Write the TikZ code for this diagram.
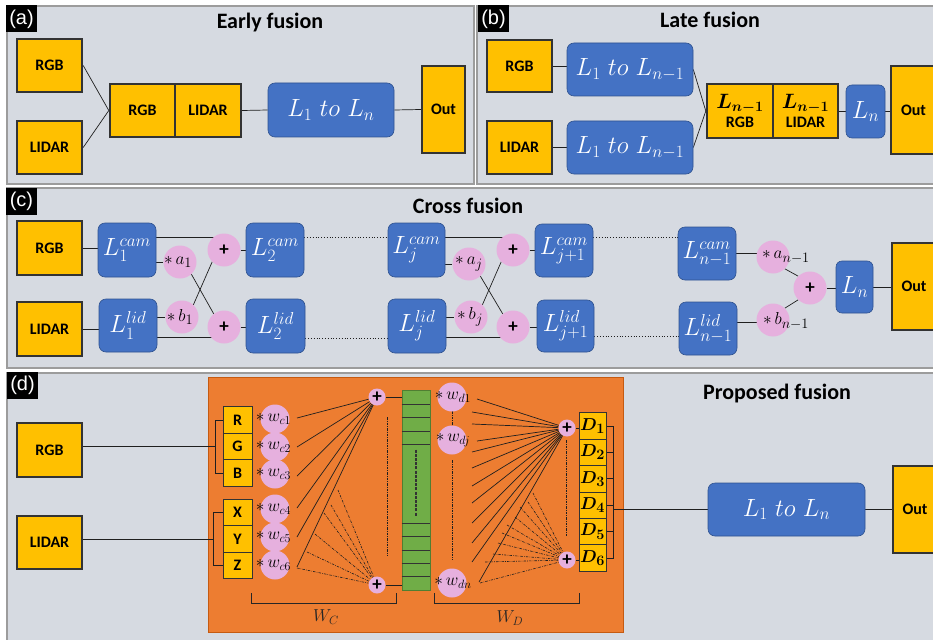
\documentclass[tikz,border=0pt]{standalone}
\usepackage{fontspec}
\newfontfamily\carl{Carlito}
\newfontfamily\arl{Liberation Sans}
\usetikzlibrary{calc}

\definecolor{panelfill}{HTML}{D6DAE1}
\definecolor{paneledge}{HTML}{9C9C9C}
\definecolor{ygold}{HTML}{FFC000}
\definecolor{yedge}{HTML}{333333}
\definecolor{bluef}{HTML}{4472C4}
\definecolor{bluee}{HTML}{2F528F}
\definecolor{pinkf}{RGB}{230,176,222}
\definecolor{orangef}{HTML}{ED7D31}
\definecolor{orangee}{HTML}{C55A11}
\definecolor{greenf}{HTML}{70AD47}
\definecolor{greene}{HTML}{507E32}
\definecolor{wirec}{HTML}{1F1F1F}

\pgfdeclarelayer{bg}
\pgfdeclarelayer{wires}
\pgfsetlayers{bg,wires,main}

\tikzset{
  panel/.style={fill=panelfill, draw=paneledge, line width=1.6pt},
  tag/.style={fill=black, text=white, font=\arl\fontsize{20}{20}\selectfont,
    inner sep=0pt, minimum width=31pt, minimum height=27pt},
  title/.style={font=\carl\bfseries\fontsize{22}{24}\selectfont, anchor=base,
    inner sep=0pt, text=black},
  inbox/.style={draw=yedge, line width=2.4pt, fill=ygold, inner sep=0pt,
    font=\carl\bfseries\fontsize{16}{18}\selectfont},
  cellbox/.style={draw=yedge, line width=0.9pt, fill=ygold, inner sep=0pt,
    minimum width=29pt, minimum height=26.5pt,
    font=\carl\bfseries\fontsize{16}{18}\selectfont},
  dbox/.style={draw=yedge, line width=0.9pt, fill=ygold, inner sep=0pt,
    minimum width=27pt, minimum height=26.4pt,
    font=\fontsize{19}{19}\selectfont\boldmath},
  blk/.style={fill=bluef, draw=bluee, line width=0.6pt, rounded corners=7pt,
    inner sep=0pt, text=white, font=\fontsize{24}{26}\selectfont},
  pinkc/.style={circle, fill=pinkf, inner sep=0pt, minimum size=33pt},
  pinks/.style={circle, fill=pinkf, inner sep=0pt, minimum size=29pt},
  plusc/.style={circle, fill=pinkf, inner sep=0pt, minimum size=33pt,
    font=\carl\bfseries\fontsize{19}{19}\selectfont},
  plusd/.style={circle, fill=pinkf, inner sep=0pt, minimum size=17pt,
    font=\carl\bfseries\fontsize{19}{19}\selectfont},
  clab/.style={font=\fontsize{19}{20}\selectfont, inner sep=0pt, text=black},
  wlab/.style={font=\fontsize{17}{18}\selectfont, inner sep=0pt, text=black},
  wire/.style={draw=wirec, line width=0.7pt},
  dotw/.style={draw=wirec, line width=0.8pt, dotted},
  dashdot/.style={draw=wirec, line width=0.6pt,
    dash pattern=on 2.5pt off 1.2pt on 0.6pt off 1.2pt},
  orangebox/.style={fill=orangef, draw=orangee, line width=0.8pt, inner sep=0pt},
  greenbox/.style={fill=greenf, draw=greene, line width=0.8pt, inner sep=0pt},
  cellline/.style={draw=black!80, line width=0.7pt},
  brk/.style={draw=black!85, line width=0.8pt},
}

\begin{document}
\begin{tikzpicture}[x=1pt,y=-1pt]
\useasboundingbox (0,0) rectangle (933,639);

\begin{pgfonlayer}{bg}
  \fill[white] (0,0) rectangle (933,639);
  \draw[panel] (7,6) rectangle (474,184);
  \draw[panel] (477,6) rectangle (945,184);
  \draw[panel] (7,188) rectangle (945,368);
  \draw[panel] (7,373) rectangle (945,650);
  \node[orangebox, minimum width=415pt, minimum height=255pt] (orng) at (415.5,504.5) {};
\end{pgfonlayer}

% ---------------- (a) early fusion ----------------
\node[tag] (taga) at (21.5,19) {(a)};
\node[title] (ta) at (270,29) {Early fusion};
\node[inbox, minimum width=65pt, minimum height=53pt] (aRGB) at (49.5,65.5) {RGB};
\node[inbox, minimum width=65pt, minimum height=53pt] (aLID) at (49.5,147.5) {LIDAR};
\node[inbox, minimum width=65pt, minimum height=53pt] (aCR) at (142.5,110.5) {RGB};
\node[inbox, minimum width=66pt, minimum height=53pt] (aCL) at (208,110.5) {LIDAR};
\node[blk, minimum width=126pt, minimum height=54pt] (aL) at (331,110) {$L_1\ to\ L_n$};
\node[inbox, minimum width=43pt, minimum height=87pt] (aOut) at (443.5,109.5) {Out};

\begin{pgfonlayer}{wires}
  \draw[wire] (aRGB.east) -- (aCR.west);
  \draw[wire] (aLID.east) -- (aCR.west);
  \draw[wire] (aCL.east) -- (aL.west);
  \draw[wire] (aL.east) -- (aOut.west);
\end{pgfonlayer}

% ---------------- (b) late fusion ----------------
\node[tag] (tagb) at (493.5,19) {(b)};
\node[title] (tb) at (710,27.5) {Late fusion};
\node[inbox, minimum width=65pt, minimum height=52pt] (bRGB) at (519.5,66) {RGB};
\node[inbox, minimum width=65pt, minimum height=53pt] (bLID) at (519.5,147.5) {LIDAR};
\node[blk, minimum width=126pt, minimum height=53pt] (bL1) at (630,69.5) {$L_1\ to\ L_{n-1}$};
\node[blk, minimum width=126pt, minimum height=53pt] (bL2) at (630,147.5) {$L_1\ to\ L_{n-1}$};
\node[inbox, minimum width=66pt, minimum height=54pt, align=center] (bCR) at (740,111)
  {{\fontsize{20}{20}\selectfont\boldmath$L_{n-1}$}\\[1pt]RGB};
\node[inbox, minimum width=65pt, minimum height=54pt, align=center] (bCL) at (805.5,111)
  {{\fontsize{20}{20}\selectfont\boldmath$L_{n-1}$}\\[1pt]LIDAR};
\node[blk, rounded corners=6pt, minimum width=39pt, minimum height=53pt] (bLn) at (865.5,111.5) {$L_n$};
\node[inbox, minimum width=45pt, minimum height=88pt] (bOut) at (913.5,110) {Out};

\begin{pgfonlayer}{wires}
  \draw[wire] (bRGB.east) -- (bRGB.east -| bL1.west);
  \draw[wire] (bLID.east) -- (bLID.east -| bL2.west);
  \draw[wire] (bL1.east) -- (bCR.west);
  \draw[wire] (bL2.east) -- (bCR.west);
  \draw[wire] (bCL.east) -- (bCL.east -| bLn.west);
  \draw[wire] (bLn.east) -- (bLn.east -| bOut.west);
\end{pgfonlayer}

% ---------------- (c) cross fusion ----------------
\node[tag] (tagc) at (21.5,201) {(c)};
\node[title] (tc) at (468,213) {Cross fusion};
\node[inbox, minimum width=65pt, minimum height=54pt] (cRGB) at (49.5,248) {RGB};
\node[inbox, minimum width=65pt, minimum height=54pt] (cLID) at (49.5,329) {LIDAR};

\node[blk, minimum width=58pt, minimum height=54pt] (c1cam) at (127,250) {$L_1^{cam}$};
\node[blk, minimum width=58pt, minimum height=53pt] (c1lid) at (128,325.5) {$L_1^{lid}$};
\node[pinkc] (ca1) at (180,262) {};
\node[clab] (ca1t) at (178,262) {$\ast\,a_1$};
\node[pinkc] (cb1) at (182,317) {};
\node[clab] (cb1t) at (180,317) {$\ast\,b_1$};
\node[plusc] (cp1) at (224,250) {+};
\node[plusc] (cq1) at (224,327) {+};
\node[blk, minimum width=58pt, minimum height=54pt] (c2cam) at (275,250) {$L_2^{cam}$};
\node[blk, minimum width=59pt, minimum height=54pt] (c2lid) at (275.5,326) {$L_2^{lid}$};

\node[blk, minimum width=57pt, minimum height=54pt] (cjcam) at (416.5,250) {$L_j^{cam}$};
\node[blk, minimum width=58pt, minimum height=54pt] (cjlid) at (417,326) {$L_j^{lid}$};
\node[pinkc] (caj) at (469,264) {};
\node[clab] (cajt) at (469,264) {$\ast\,a_j$};
\node[pinkc] (cbj) at (471,317) {};
\node[clab] (cbjt) at (470,317) {$\ast\,b_j$};
\node[plusc] (cpj) at (513,250) {+};
\node[plusc] (cqj) at (513,327) {+};
\node[blk, minimum width=58pt, minimum height=53pt] (cj1cam) at (564,250.5) {$L_{j+1}^{cam}$};
\node[blk, minimum width=57pt, minimum height=52pt] (cj1lid) at (565.5,326) {$L_{j+1}^{lid}$};

\node[blk, minimum width=58pt, minimum height=53pt] (cncam) at (707,253.5) {$L_{n-1}^{cam}$};
\node[blk, minimum width=58pt, minimum height=53pt] (cnlid) at (708,328.5) {$L_{n-1}^{lid}$};
\node[pinkc] (can) at (773,257) {};
\node[clab] (cant) at (786,257) {$\ast\,a_{n-1}$};
\node[pinkc] (cbn) at (773,320) {};
\node[clab] (cbnt) at (786,321) {$\ast\,b_{n-1}$};
\node[plusc] (cpn) at (810,288) {+};
\node[blk, rounded corners=6pt, minimum width=37pt, minimum height=52pt] (cLn) at (854.5,287) {$L_n$};
\node[inbox, minimum width=44pt, minimum height=87pt] (cOut) at (914,286.5) {Out};

\begin{pgfonlayer}{wires}
  \draw[wire] (cRGB.east) -- (cRGB.east -| c1cam.west);
  \draw[wire] (cLID.east) -- (cLID.east -| c1lid.west);
  % first stage
  \draw[wire] ($(c1cam.east)+(0,-13)$) -- ($(cp1)+(0,-13)$);
  \draw[wire] ($(c1cam.east)+(0,12)$) -- (ca1);
  \draw[wire] ($(c1lid.east)+(0,-8.5)$) -- (cb1);
  \draw[wire] ($(c1lid.east)+(0,11.5)$) -- ($(cq1)+(0,10)$);
  \draw[wire] (ca1.-47) -- (cq1.128);
  \draw[wire] (cb1.47) -- (cp1.225);
  \draw[wire] (cp1) -- (cp1 -| c2cam.west);
  \draw[wire] (cq1) -- (cq1 -| c2lid.west);
  \draw[dotw] ($(c2cam.east)+(0,-13)$) -- ($(cjcam.west)+(0,-13)$);
  \draw[dotw] ($(c2lid.east)+(0,12)$) -- ($(cjlid.west)+(0,12)$);
  % j-th stage
  \draw[wire] ($(cjcam.east)+(0,-13)$) -- ($(cpj)+(0,-13)$);
  \draw[wire] ($(cjcam.east)+(0,14)$) -- (caj);
  \draw[wire] ($(cjlid.east)+(0,-9)$) -- (cbj);
  \draw[wire] ($(cjlid.east)+(0,11)$) -- ($(cqj)+(0,10)$);
  \draw[wire] (caj.-47) -- (cqj.128);
  \draw[wire] (cbj.47) -- (cpj.225);
  \draw[wire] (cpj) -- (cpj -| cj1cam.west);
  \draw[wire] (cqj) -- (cqj -| cj1lid.west);
  \draw[dotw] ($(cj1cam.east)+(0,-13.5)$) -- ($(cncam.west)+(0,-16.5)$);
  \draw[dotw] ($(cj1lid.east)+(0,10)$) -- ($(cnlid.west)+(0,7.5)$);
  % last stage
  \draw[wire] ($(cncam.east)+(0,-0.5)$) -- ($(can)+(0,-4)$);
  \draw[wire] ($(cnlid.east)+(0,-6.5)$) -- ($(cbn)+(0,2)$);
  \draw[wire] (can.-45) -- (cpn.135);
  \draw[wire] (cbn.45) -- (cpn.225);
  \draw[wire] (cpn) -- (cpn -| cLn.west);
  \draw[wire] (cLn.east) -- (cLn.east -| cOut.west);
\end{pgfonlayer}

% ---------------- (d) proposed fusion ----------------
\node[tag] (tagd) at (22.5,385.5) {(d)};
\node[title] (td) at (777,399) {Proposed fusion};
\node[inbox, minimum width=65pt, minimum height=54pt] (dRGB) at (49.5,450) {RGB};
\node[inbox, minimum width=65pt, minimum height=53pt] (dLID) at (49.5,542.5) {LIDAR};

\node[cellbox] (dR) at (237.5,420) {R};
\node[cellbox] (dG) at (237.5,446.5) {G};
\node[cellbox] (dB) at (237.5,473) {B};
\node[cellbox] (dX) at (237.5,512.5) {X};
\node[cellbox] (dY) at (237.5,539) {Y};
\node[cellbox] (dZ) at (237.5,565.5) {Z};

\node[pinks] (wc1) at (275,419) {};
\node[pinks] (wc2) at (275,447) {};
\node[pinks] (wc3) at (275,474) {};
\node[pinks] (wc4) at (275,509) {};
\node[pinks] (wc5) at (275,537) {};
\node[pinks] (wc6) at (275,565) {};
\node[wlab] (wc1t) at (273.5,419) {$\ast\,w_{c1}$};
\node[wlab] (wc2t) at (273.5,447) {$\ast\,w_{c2}$};
\node[wlab] (wc3t) at (273.5,474) {$\ast\,w_{c3}$};
\node[wlab] (wc4t) at (273.5,509) {$\ast\,w_{c4}$};
\node[wlab] (wc5t) at (273.5,537) {$\ast\,w_{c5}$};
\node[wlab] (wc6t) at (273.5,565) {$\ast\,w_{c6}$};

\node[plusd] (dpt) at (377,397) {+};
\node[plusd] (dpb) at (377,585) {+};

\node[greenbox, minimum width=28pt, minimum height=200pt] (gstack) at (416,490) {};
\foreach \d in {15,28,42,55,134,147,161,174,187}
  \draw[cellline] ($(gstack.north west)+(0,\d)$) -- ($(gstack.north east)+(0,\d)$);
\draw[draw=black!80, line width=1.6pt, dash pattern=on 3pt off 1.2pt]
  ($(gstack.north)+(0,60)$) -- ($(gstack.north)+(0,127)$);

\node[pinks] (wd1) at (452,397) {};
\node[pinks] (wdj) at (452,440) {};
\node[pinks] (wdn) at (452,583) {};
\node[wlab] (wd1t) at (453,397) {$\ast\,w_{d1}$};
\node[wlab] (wdjt) at (453,440) {$\ast\,w_{dj}$};
\node[wlab] (wdnt) at (453,583) {$\ast\,w_{dn}$};

\node[plusd] (dpD1) at (567,428) {+};
\node[plusd] (dpD6) at (567,560) {+};

\node[dbox] (dD1) at (592.5,426) {$D_1$};
\node[dbox] (dD2) at (592.5,452.4) {$D_2$};
\node[dbox] (dD3) at (592.5,478.8) {$D_3$};
\node[dbox] (dD4) at (592.5,505.2) {$D_4$};
\node[dbox] (dD5) at (592.5,531.6) {$D_5$};
\node[dbox] (dD6) at (592.5,558) {$D_6$};
\coordinate (dbr) at ($(dD1.east)+(7,0)$);

\node[blk, minimum width=157pt, minimum height=53pt] (dL) at (786.5,509.5) {$L_1\ to\ L_n$};
\node[inbox, minimum width=44pt, minimum height=87pt] (dOut) at (915,509.5) {Out};

% braces under the two weight groups
\draw[brk] (251,593) -- (251,603) -- (396,603) -- (396,593);
\node[wlab, text=black!85] (wC) at (326,617) {$W_C$};
\draw[brk] (434,593) -- (434,603) -- (579,603) -- (579,593);
\node[wlab, text=black!85] (wD) at (510,618) {$W_D$};

\begin{pgfonlayer}{wires}
  % inputs and channel brackets
  \draw[wire] (dRGB.east |- dG.west) -- ($(dG.west)+(-7,0)$);
  \draw[wire] (dR.west) -- ++(-7,0) |- (dB.west);
  \draw[wire] (dLID.east |- dY.west) -- ($(dY.west)+(-9,0)$);
  \draw[wire] (dX.west) -- ++(-9,0) |- (dZ.west);
  % camera-side weights into the first and last sums
  \foreach \i/\dy in {1/-1,2/0,3/2,4/-1,5/0,6/2}
    \draw[wire] ($(wc\i)+(22,\dy)$) -- (dpt);
  \foreach \dx/\dy in {-39/-95,-46/-80,-53/-72,-62/-51,-70/-33,-80/-17}
    \draw[dashdot] ($(dpb)+(\dx,\dy)$) -- (dpb);
  \draw[dashdot, line width=0.9pt] ($(dpt)+(10,20)$) -- ($(dpb)+(10,-30)$);
  \draw[wire] (dpt) -- (dpt -| gstack.west);
  \draw[wire] (dpb) -- (dpb -| gstack.west);
  % decoder-side weights into the output sums
  \draw[dashdot, line width=0.9pt] ($(wd1)+(0,14)$) -- ($(wdj)+(0,-14)$);
  \draw[dashdot, line width=0.9pt] ($(wdj)+(0,20)$) -- ($(wdn)+(0,-23)$);
  \foreach \dx/\dy in {-90/-29,-95/-16,-95/-4,-90/13,-95/24,-95/40,-95/58,-95/75,-95/95,-95/115,-95/134,-88/154}
    \draw[wire] ($(dpD1)+(\dx,\dy)$) -- (dpD1);
  \foreach \dx/\dy in {-34/-67,-39/-58,-47/-53,-52/-43,-60/-35,-65/-27,-69/-17,-74/-6,-82/2,-87/23}
    \draw[dashdot] ($(dpD6)+(\dx,\dy)$) -- (dpD6);
  \draw[dashdot, line width=0.9pt] ($(dpD1)+(-1,12)$) -- ($(dpD6)+(-1,-23)$);
  \draw[wire] (dpD1) -- (dpD1 -| dD1.west);
  \draw[wire] (dpD6) -- (dpD6 -| dD6.west);
  % output bracket and head
  \draw[wire] (dD1.east) -- (dbr) |- (dD6.east);
  \foreach \k in {2,...,5}
    \draw[wire] (dD\k.east) -- (dD\k.east -| dbr);
  \draw[wire] (dbr |- dL.west) -- (dL.west);
  \draw[wire] (dL.east) -- (dL.east -| dOut.west);
\end{pgfonlayer}

\end{tikzpicture}
\end{document}
